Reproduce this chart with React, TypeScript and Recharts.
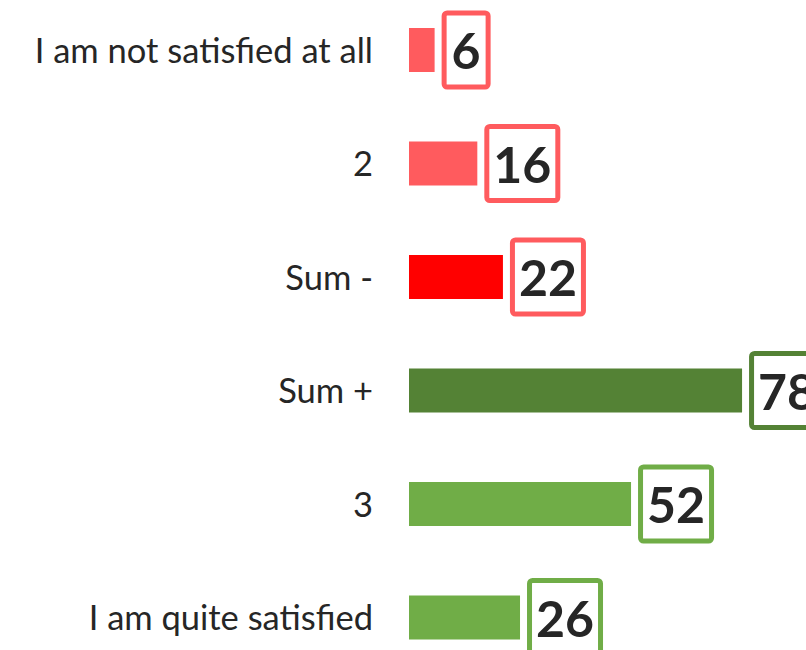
import { Bar, BarChart, Cell, LabelList, XAxis, YAxis } from 'recharts'

const CATEGORIES = ['I am not satisfied at all', '2', 'Sum -', 'Sum +', '3', 'I am quite satisfied']
const VALUES = [6, 16, 22, 78, 52, 26]
const BAR_COLORS = ['#FF5B5E', '#FF5B5E', '#FF0000', '#548235', '#70AD47', '#70AD47']
const BOX_COLORS = ['#FF5B5E', '#FF5B5E', '#FF5B5E', '#548235', '#70AD47', '#70AD47']

const data = CATEGORIES.map((category, i) => ({ category, value: VALUES[i] }))

const FONT = 'Lato, "Open Sans", sans-serif'

function CategoryTick(props: any) {
  const { x, y, payload } = props
  return (
    <text x={x - 34} y={y + 13} textAnchor="end" fontFamily={FONT} fontSize={34.5} fill="#262626">
      {payload.value}
    </text>
  )
}

function ValueBox(props: any) {
  const { x, y, width, height, value, index } = props
  const text = String(value)
  const sw = 5
  const outerW = 22 + 27 * text.length
  const outerH = 79
  const left = x + width + 7
  const cy = y + height / 2
  return (
    <g>
      <rect
        x={left + sw / 2}
        y={cy - outerH / 2 + sw / 2}
        width={outerW - sw}
        height={outerH - sw}
        rx={3}
        fill="#fff"
        stroke={BOX_COLORS[index]}
        strokeWidth={sw}
      />
      <text x={left + outerW / 2} y={cy + 19} textAnchor="middle" fontFamily={FONT} fontWeight={700} fontSize={50} fill="#262626">
        {text}
      </text>
    </g>
  )
}

export default function App() {
  return (
    <div style={{ position: 'fixed', left: 0, top: 0, width: 806, height: 650, overflow: 'hidden', background: '#fff' }}>
      <div style={{ position: 'absolute', left: 0, top: -7 }}>
        <BarChart width={836} height={681} data={data} layout="vertical" margin={{ top: 0, right: 0, bottom: 0, left: 0 }}>
          <XAxis type="number" domain={[0, 100]} hide />
          <YAxis
            type="category"
            dataKey="category"
            width={409}
            axisLine={false}
            tickLine={false}
            tickSize={0}
            tick={<CategoryTick />}
            interval={0}
          />
          <Bar dataKey="value" barSize={44} isAnimationActive={false}>
            {data.map((_, i) => (
              <Cell key={i} fill={BAR_COLORS[i]} />
            ))}
            <LabelList dataKey="value" content={<ValueBox />} />
          </Bar>
        </BarChart>
      </div>
    </div>
  )
}
